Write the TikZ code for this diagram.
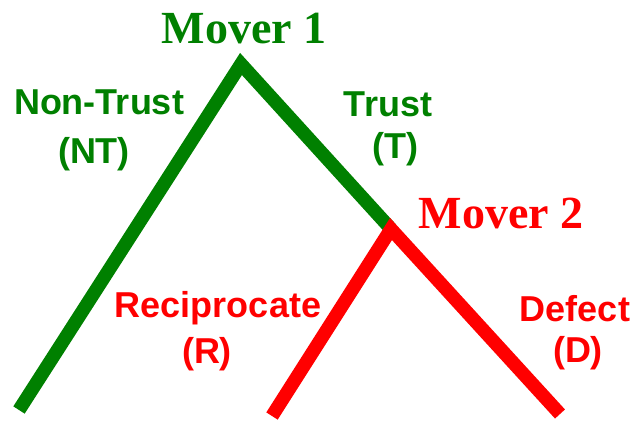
\documentclass[tikz,border=0pt]{standalone}
\usepackage{fontspec}
\setmainfont{Liberation Serif}
\setsansfont{Liberation Sans}
\definecolor{tgreen}{HTML}{008000}
\definecolor{tred}{HTML}{FF0000}
\begin{document}
\begin{tikzpicture}[x=1pt,y=-1pt,
  branch/.style={line width=13.5pt,line join=miter,line cap=butt},
  mover/.style={inner sep=0pt,anchor=base,font=\fontsize{46}{46}\selectfont\bfseries},
  lbl/.style={inner sep=0pt,anchor=base,font=\fontsize{36}{36}\selectfont\sffamily\bfseries}]
\useasboundingbox (0,0) rectangle (635,421);
\coordinate (apex) at (241,64);
\coordinate (mid) at (391,229);
\coordinate (l1) at (19,410);
\coordinate (l2) at (272,416);
\coordinate (r2) at (560,414);
\draw[branch,tgreen] (l1) -- (apex) -- (mid);
\draw[branch,tred] (l2) -- (mid) -- (r2);
\node[mover,text=tgreen] (m1) at (244,43) {Mover 1};
\node[mover,text=tred] (m2) at (501,228) {Mover 2};
\node[lbl,text=tgreen] (nt) at (99,114) {Non-Trust};
\node[lbl,text=tgreen] (ntab) at (94,163) {(NT)};
\node[lbl,text=tgreen] (t) at (388,116) {Trust};
\node[lbl,text=tgreen] (tab) at (395,158) {(T)};
\node[lbl,text=tred] (r) at (218,317) {Reciprocate};
\node[lbl,text=tred] (rab) at (207,363) {(R)};
\node[lbl,text=tred] (d) at (575,321) {Defect};
\node[lbl,text=tred] (dab) at (578,362) {(D)};
\end{tikzpicture}
\end{document}
